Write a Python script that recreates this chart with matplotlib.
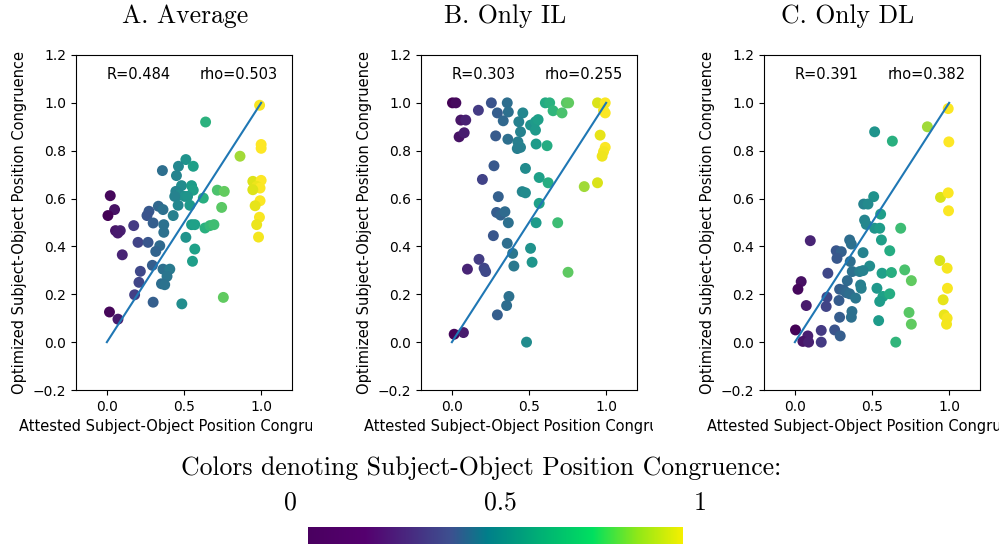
import numpy as np
import matplotlib
matplotlib.use('Agg')
import matplotlib.pyplot as plt
from matplotlib.colors import LinearSegmentedColormap
from matplotlib.transforms import Bbox, TransformedBbox

# Panel titles and correlation labels
titles = ['A. Average', 'B. Only IL', 'C. Only DL']
r_values = ['R=0.484', 'R=0.303', 'R=0.391']
rho_values = ['rho=0.503', 'rho=0.255', 'rho=0.382']

# A. Average: attested (x) vs optimized (y)
avg_x = [0.99, 0.64, 1.0, 1.0, 0.863, 0.512, 0.56, 0.464, 0.36, 0.451, 0.946, 1.0, 0.971,
         0.993, 0.946, 0.484, 0.549, 0.56, 0.447, 0.473, 0.505, 0.44, 0.523, 0.625, 0.716,
         0.761, 0.022, 0.993, 0.961, 0.744, 0.462, 0.538, 0.334, 0.364, 0.05, 0.007, 0.273,
         0.26, 0.43, 0.989, 0.3, 0.369, 0.174, 0.549, 0.57, 0.636, 0.668, 0.694, 0.971, 0.056,
         0.087, 0.071, 0.369, 0.512, 0.983, 0.202, 0.267, 0.343, 0.317, 0.57, 0.1, 0.555,
         0.295, 0.364, 0.408, 0.217, 0.39, 0.208, 0.354, 0.375, 0.18, 0.755, 0.3, 0.486,
         0.017, 0.072]
avg_y = [0.99, 0.92, 0.826, 0.81, 0.777, 0.763, 0.735, 0.735, 0.717, 0.696, 0.672, 0.676, 0.651,
         0.644, 0.637, 0.654, 0.654, 0.635, 0.63, 0.616, 0.609, 0.609, 0.609, 0.602, 0.635,
         0.63, 0.612, 0.591, 0.57, 0.563, 0.572, 0.572, 0.568, 0.554, 0.554, 0.529, 0.547,
         0.529, 0.529, 0.522, 0.498, 0.491, 0.487, 0.491, 0.491, 0.477, 0.487, 0.491, 0.491, 0.466,
         0.466, 0.456, 0.459, 0.438, 0.439, 0.417, 0.417, 0.403, 0.379, 0.389, 0.365, 0.338,
         0.321, 0.305, 0.305, 0.296, 0.275, 0.25, 0.244, 0.24, 0.198, 0.187, 0.167, 0.16,
         0.126, 0.096]

# B. Only IL
il_x = [0.004, 0.026, 0.172, 0.256, 0.359, 0.295, 0.366, 0.333, 0.058, 0.09, 0.047, 0.08,
        0.284, 0.363, 0.46, 0.434, 0.51, 0.542, 0.559, 0.445, 0.542, 0.428, 0.445, 0.424,
        0.546, 0.617, 0.606, 0.634, 0.742, 0.757, 0.656, 0.714, 0.944, 0.994, 0.983, 0.994,
        0.961, 0.994, 0.983, 0.974, 0.273, 0.477, 0.198, 0.566, 0.624, 0.858, 0.944, 0.456,
        0.477, 0.301, 0.566, 0.29, 0.316, 0.344, 0.366, 0.546, 0.686, 0.269, 0.359, 0.394,
        0.402, 0.51, 0.52, 0.176, 0.209, 0.219, 0.101, 0.753, 0.37, 0.355, 0.295, 0.015,
        0.075, 0.484]
il_y = [1.0, 1.0, 0.969, 1.0, 1.0, 0.958, 0.962, 0.925, 0.928, 0.928, 0.858, 0.875,
        0.862, 0.848, 0.958, 0.921, 0.907, 0.921, 0.93, 0.879, 0.886, 0.837, 0.814, 0.809,
        0.828, 0.821, 1.0, 1.0, 1.0, 1.0, 0.967, 0.958, 1.0, 1.0, 0.969, 0.958,
        0.865, 0.814, 0.796, 0.777, 0.737, 0.726, 0.68, 0.688, 0.666, 0.65, 0.666, 0.629,
        0.624, 0.608, 0.58, 0.542, 0.531, 0.545, 0.499, 0.499, 0.499, 0.445, 0.413, 0.371,
        0.318, 0.392, 0.334, 0.346, 0.309, 0.295, 0.305, 0.292, 0.191, 0.153, 0.114, 0.033,
        0.04, 0.0]

# C. Only DL
dl_x = [0.994, 0.859, 0.517, 0.632, 0.998, 0.944, 0.994, 0.996, 0.511, 0.446, 0.474, 0.556,
        0.452, 0.463, 0.517, 0.55, 0.686, 0.1, 0.355, 0.366, 0.561, 0.268, 0.301, 0.442,
        0.615, 0.273, 0.359, 0.485, 0.372, 0.42, 0.442, 0.214, 0.565, 0.626, 0.712, 0.939,
        0.987, 0.34, 0.755, 0.426, 0.43, 0.041, 0.02, 0.532, 0.29, 0.316, 0.333, 0.355,
        0.394, 0.208, 0.571, 0.615, 0.55, 0.989, 0.961, 0.286, 0.074, 0.203, 0.37, 0.366,
        0.29, 0.74, 0.968, 0.987, 0.983, 0.543, 0.755, 0.004, 0.171, 0.258, 0.294, 0.084,
        0.052, 0.089, 0.171, 0.654]
dl_y = [0.976, 0.9, 0.879, 0.84, 0.837, 0.605, 0.624, 0.549, 0.608, 0.577, 0.577, 0.535,
        0.51, 0.492, 0.476, 0.476, 0.476, 0.424, 0.427, 0.41, 0.427, 0.382, 0.378, 0.374,
        0.382, 0.35, 0.337, 0.318, 0.295, 0.295, 0.299, 0.288, 0.288, 0.291, 0.302, 0.341,
        0.309, 0.257, 0.257, 0.239, 0.225, 0.253, 0.221, 0.225, 0.221, 0.218, 0.207, 0.202,
        0.184, 0.188, 0.191, 0.202, 0.17, 0.225, 0.177, 0.174, 0.153, 0.149, 0.128, 0.104,
        0.104, 0.124, 0.114, 0.1, 0.075, 0.09, 0.075, 0.051, 0.049, 0.051, 0.026, 0.026,
        0.003, 0.0, 0.0, 0.0]

xs = [avg_x, il_x, dl_x]
ys = [avg_y, il_y, dl_y]

# Colour bar labels at the bottom
cbar_title = 'Colors denoting Subject-Object Position Congruence:'
cbar_ticks = ['0', '0.5', '1']

fig = plt.figure(figsize=(9.99, 5.45), dpi=100)

# Axes positions, title centres and the right edge where each x label is cut off
W, H = 999, 545
lefts = [76, 421, 764]
title_centres = [185, 505, 848]
clip_right = [312, 653, 999]

for i in range(3):
    ax = fig.add_axes([lefts[i] / W, 1 - 390 / H, 216 / W, 335 / H])
    ax.scatter(xs[i], ys[i], c=xs[i], cmap='viridis', vmin=0, vmax=1, s=62,
               edgecolors='none', zorder=2)
    ax.plot([0, 1], [0, 1], color='#1f77b4', linewidth=1.5, zorder=3)
    ax.text(0.0, 1.1, r_values[i], fontsize=10.5)
    ax.text(0.6, 1.1, rho_values[i], fontsize=10.5)
    ax.set_xlim(-0.2, 1.2)
    ax.set_ylim(-0.2, 1.2)
    ax.set_xticks([0.0, 0.5, 1.0])
    ax.set_yticks(np.arange(-0.2, 1.21, 0.2))
    ax.tick_params(labelsize=10)
    ax.set_ylabel('Optimized Subject-Object Position Congruence', fontsize=10.5)
    ax.set_xlabel('Attested Subject-Object Position Congruence', fontsize=10.5)

    # Cut the x label where the original sub-figure ended
    lab = ax.xaxis.label
    lab.set_clip_on(True)
    lab.set_clip_box(TransformedBbox(Bbox.from_extents(0, 0, clip_right[i] / W, 1),
                                     fig.transFigure))

    # Title in a Computer Modern style serif
    fig.text(title_centres[i] / W, 1 - 16 / H, titles[i], fontfamily='cmr10',
             fontsize=18.5, ha='center', va='center')

# Bottom colour legend
fig.text(481 / W, 1 - 468 / H, cbar_title, fontfamily='cmr10', fontsize=18.5,
         ha='center', va='center')
for label, px in zip(cbar_ticks, [290, 500, 700]):
    fig.text(px / W, 1 - 503 / H, label, fontfamily='cmr10', fontsize=18.5,
             ha='center', va='center')

bar_cmap = LinearSegmentedColormap.from_list(
    'bar', [(0.0, '#4a0060'), (0.15, '#55006f'), (0.38, '#3d5090'), (0.48, '#00808a'),
            (0.76, '#00e060'), (0.88, '#90e818'), (1.0, '#f5f000')])
cax = fig.add_axes([308 / W, 1 - 544 / H, 375 / W, 17 / H])
cax.imshow(np.linspace(0, 1, 256).reshape(1, -1), cmap=bar_cmap, aspect='auto')
cax.set_axis_off()

fig.savefig('out.png', dpi=100)
